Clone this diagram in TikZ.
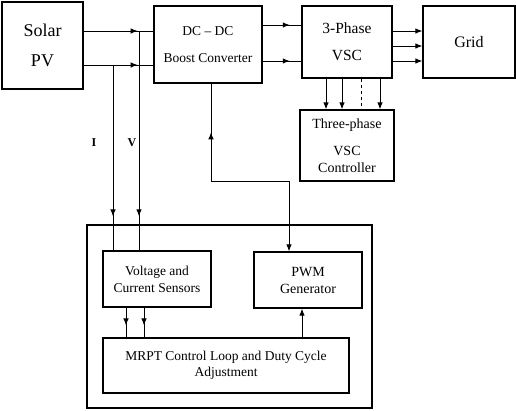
\documentclass[tikz,border=0pt]{standalone}
\usepackage{fontspec}
\setmainfont{Liberation Serif}
\usetikzlibrary{arrows.meta,decorations.markings}

\begin{document}
\begin{tikzpicture}[
  x=1pt, y=-1pt,
  block/.style={draw=black, line width=1.2pt, inner sep=0pt, align=center, font=\fontsize{13.5}{17}\selectfont},
  wire/.style={line width=1pt, black},
  flow/.style={wire, -{Latex[length=7pt,width=5.5pt]}},
  midtip/.style={wire, postaction={decorate}, decoration={markings,
    mark=at position #1 with {\arrow{Latex[length=7pt,width=5.5pt]}}}},
  backtip/.style={postaction={decorate}, decoration={markings,
    mark=at position #1 with {\arrowreversed{Latex[length=7pt,width=5.5pt]}}}},
  sig/.style={font=\fontsize{12}{14}\selectfont\bfseries}
]
\useasboundingbox (0,0) rectangle (516,410);

% === Power path ===
\node[block, minimum width=81pt, minimum height=87pt, font=\fontsize{18}{30}\selectfont] (PV) at (42.5,45.5) {Solar\\PV};
\node[block, minimum width=108pt, minimum height=77pt] (DC) at (208,44.5) {DC -- DC\\[10pt]Boost Converter};
\node[block, minimum width=90pt, minimum height=72pt, font=\fontsize{15.5}{17}\selectfont] (VSC) at (347,42) {3-Phase\\[10pt]VSC};
\node[block, minimum width=92pt, minimum height=72pt, font=\fontsize{16}{18}\selectfont] (Grid) at (469,42) {Grid};
\node[block, minimum width=94pt, minimum height=71pt, font=\fontsize{14}{17}\selectfont] (Ctrl) at (347,145.5) {Three-phase\\[10pt]VSC\\Controller};

% PV to converter (I and V taps)
\draw[midtip=0.775] (PV.east |- 0,31) -- (DC.west |- 0,31);
\draw[midtip=0.775] (PV.east |- 0,65) -- (DC.west |- 0,65);
\draw[midtip=0.7] (DC.east |- 0,25) -- (VSC.west |- 0,25);
\draw[midtip=0.7] (DC.east |- 0,61) -- (VSC.west |- 0,61);

% VSC to grid
\foreach \yy in {31,46,61}
  \draw[flow] (VSC.east |- 0,\yy) -- (Grid.west |- 0,\yy);

% VSC to its controller
\foreach \xx in {326,342,380}
  \draw[flow] (VSC.south -| \xx,0) -- (Ctrl.north -| \xx,0);
\draw[wire, dashed] (VSC.south -| 361,0) -- (Ctrl.north -| 361,0);

% === MPPT unit ===
\node[block, minimum width=285pt, minimum height=183pt] (Outer) at (229.5,316.5) {};
\node[block, minimum width=108pt, minimum height=56pt] (Sens) at (157,279) {Voltage and\\Current Sensors};
\node[block, minimum width=108pt, minimum height=56pt, font=\fontsize{14}{17}\selectfont] (PWM) at (308,280) {PWM\\Generator};
\node[block, minimum width=246pt, minimum height=55pt, font=\fontsize{13.5}{16}\selectfont] (MRPT) at (226,365.5) {MRPT Control Loop and Duty Cycle\\Adjustment};

% Measured signals
\coordinate (Vtap) at (139,31);
\coordinate (Itap) at (113,65);
\draw[midtip=0.845] (Vtap) -- (Sens.north -| Vtap);
\draw[midtip=0.817] (Itap) -- (Sens.north -| Itap);
\node[sig] (Ilab) at (94,143) {I};
\node[sig] (Vlab) at (132,143) {V};

\foreach \xx in {126,144}
  \draw[midtip=0.6] (Sens.south -| \xx,0) -- (MRPT.north -| \xx,0);
\draw[flow] (MRPT.north -| 302,0) -- (PWM.south -| 302,0);

% Gate signal back to the converter
\draw[flow, backtip=0.198] ([xshift=3pt]DC.south) -- ++(0,98) -| ([xshift=-19pt]PWM.north);

\end{tikzpicture}
\end{document}
